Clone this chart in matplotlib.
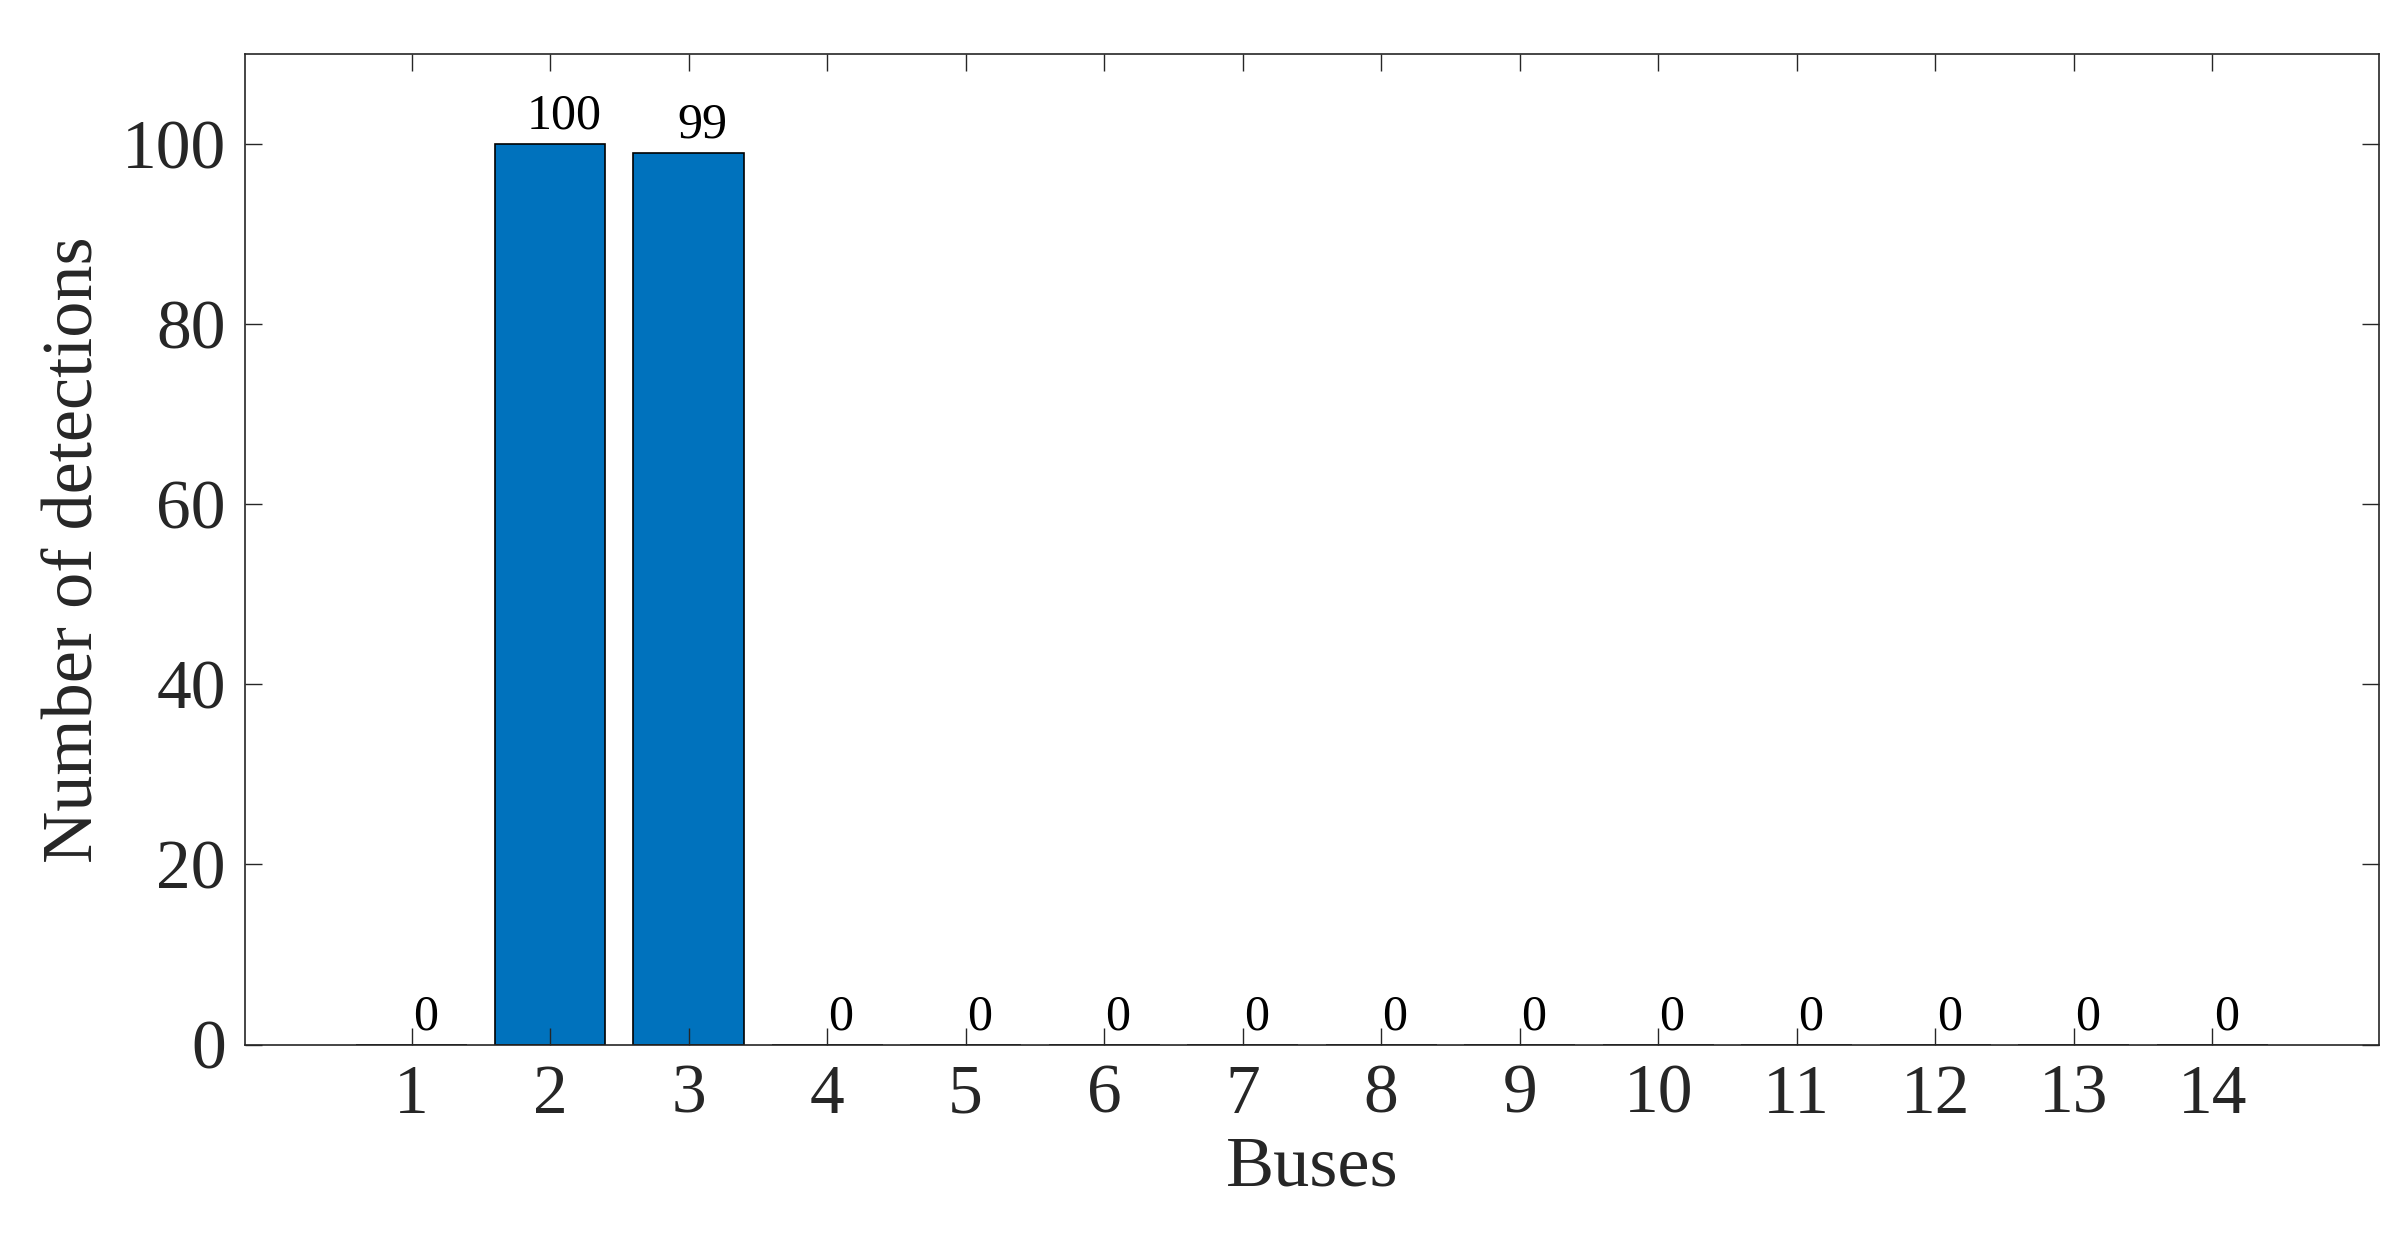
import numpy as np
import matplotlib.pyplot as plt

plt.rcParams['font.family'] = ['Liberation Serif', 'DejaVu Serif']

buses = list(range(1, 15))
detections = [0, 100, 99, 0, 0, 0, 0, 0, 0, 0, 0, 0, 0, 0]

fig = plt.figure(figsize=(24.05, 12.51), dpi=100)
ax = fig.add_axes([0.102, 0.165, 0.887, 0.792])

bars = ax.bar(buses, detections, width=0.8, color='#0072BD', edgecolor='black', linewidth=1.2)
for x, v in zip(buses, detections):
    ax.text(x + 0.1, v + 0.5, str(v), ha='center', va='bottom', fontsize=36, color='black')

ax.set_xlim(-0.2, 15.2)
ax.set_ylim(0, 110)
ax.set_xticks(buses)
ax.set_yticks([0, 20, 40, 60, 80, 100])
ax.tick_params(direction='in', length=12, width=1, labelsize=50, colors='#262626',
               top=True, right=True, pad=14)
for s in ax.spines.values():
    s.set_color('#262626')
    s.set_linewidth(1.2)
ax.set_xlabel('Buses', fontsize=52, color='#262626', labelpad=6)
ax.set_ylabel('Number of detections', fontsize=52, color='#262626', labelpad=10)

fig.savefig('out.png')
